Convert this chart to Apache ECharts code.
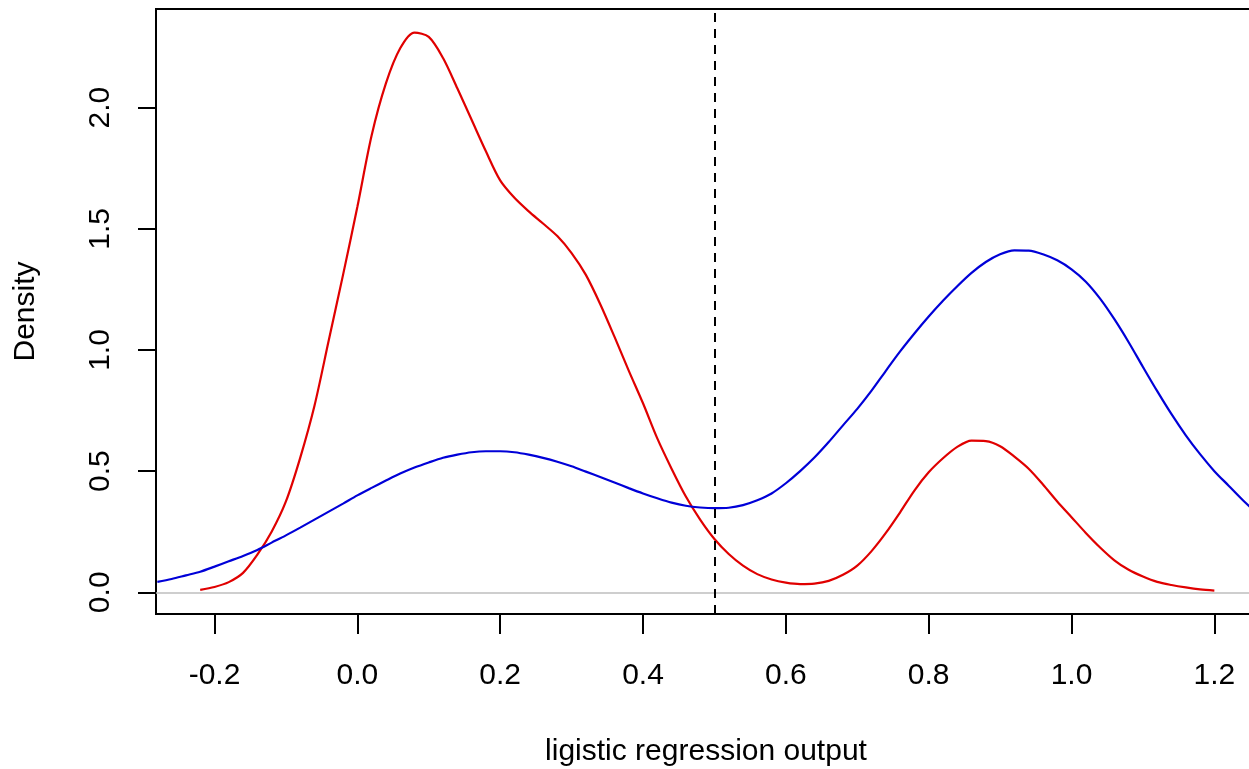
<!DOCTYPE html>
<html>
<head>
<meta charset="utf-8">
<title>Density of logistic regression output</title>
<script src="https://cdn.jsdelivr.net/npm/echarts@6/dist/echarts.min.js"></script>
<style>
  html, body { margin: 0; padding: 0; background: #ffffff; }
  #chart { width: 1249px; height: 769px; }
</style>
</head>
<body>
<div id="chart"></div>
<script>
// Density estimate of the model output for the first class (red)
const redX = [-0.22, -0.20, -0.18, -0.16, -0.14, -0.12, -0.10, -0.08, -0.06, -0.04, -0.02,
  0.00, 0.02, 0.04, 0.06, 0.08, 0.10, 0.12, 0.14, 0.16, 0.18, 0.20, 0.22, 0.24, 0.26,
  0.28, 0.30, 0.32, 0.34, 0.36, 0.38, 0.40, 0.42, 0.44, 0.46, 0.48, 0.50, 0.52, 0.54, 0.56,
  0.58, 0.60, 0.62, 0.64, 0.66, 0.68, 0.70, 0.72, 0.74, 0.76, 0.78, 0.80, 0.82, 0.84, 0.86,
  0.88, 0.90, 0.92, 0.94, 0.96, 0.98, 1.00, 1.02, 1.04, 1.06, 1.08, 1.10, 1.12, 1.14,
  1.16, 1.18, 1.20];
const redDensity = [0.010, 0.022, 0.042, 0.080, 0.155, 0.250, 0.375, 0.555, 0.770, 1.040, 1.310,
  1.590, 1.885, 2.100, 2.245, 2.310, 2.292, 2.205, 2.080, 1.950, 1.820, 1.700, 1.628, 1.572, 1.522,
  1.470, 1.400, 1.310, 1.190, 1.055, 0.915, 0.780, 0.635, 0.510, 0.395, 0.300, 0.220, 0.158, 0.110, 0.075,
  0.053, 0.040, 0.034, 0.036, 0.047, 0.072, 0.110, 0.170, 0.245, 0.330, 0.420, 0.495, 0.553, 0.600, 0.626,
  0.624, 0.603, 0.560, 0.510, 0.445, 0.375, 0.310, 0.245, 0.185, 0.132, 0.093, 0.065, 0.043, 0.030,
  0.020, 0.012, 0.007];

// Density estimate of the model output for the second class (blue)
const blueX = [-0.28, -0.26, -0.24, -0.22, -0.20, -0.18, -0.16, -0.14, -0.12, -0.10, -0.08,
  -0.06, -0.04, -0.02, 0.00, 0.02, 0.04, 0.06, 0.08, 0.10, 0.12, 0.14, 0.16, 0.18, 0.20,
  0.22, 0.24, 0.26, 0.28, 0.30, 0.32, 0.34, 0.36, 0.38, 0.40, 0.42, 0.44, 0.46, 0.48, 0.50,
  0.52, 0.54, 0.56, 0.58, 0.60, 0.62, 0.64, 0.66, 0.68, 0.70, 0.72, 0.74, 0.76, 0.78, 0.80,
  0.82, 0.84, 0.86, 0.88, 0.90, 0.92, 0.94, 0.96, 0.98, 1.00, 1.02, 1.04, 1.06, 1.08, 1.10,
  1.12, 1.14, 1.16, 1.18, 1.20, 1.22, 1.24, 1.26];
const blueDensity = [0.043, 0.055, 0.070, 0.085, 0.106, 0.128, 0.150, 0.175, 0.205, 0.235, 0.267,
  0.300, 0.333, 0.366, 0.400, 0.431, 0.461, 0.490, 0.515, 0.536, 0.555, 0.568, 0.578, 0.582, 0.582,
  0.578, 0.568, 0.555, 0.539, 0.520, 0.498, 0.476, 0.453, 0.430, 0.408, 0.388, 0.370, 0.357, 0.350, 0.347,
  0.349, 0.360, 0.380, 0.408, 0.450, 0.500, 0.556, 0.620, 0.689, 0.757, 0.832, 0.914, 0.994, 1.068, 1.138,
  1.203, 1.263, 1.318, 1.363, 1.395, 1.411, 1.410, 1.395, 1.370, 1.333, 1.282, 1.212, 1.127, 1.032, 0.930,
  0.830, 0.735, 0.648, 0.570, 0.500, 0.440, 0.380, 0.325];

// Tick labels and reference lines
const xTicks = [-0.2, 0.0, 0.2, 0.4, 0.6, 0.8, 1.0, 1.2];
const yTicks = [0.0, 0.5, 1.0, 1.5, 2.0];
const cutoff = 0.5;
const baseline = 0;

const X_MIN = -0.2819, X_MAX = 1.2583;
const Y_MIN = -0.0896, Y_MAX = 2.4073;

const FONT = '"Liberation Sans", Arial, sans-serif';
const pairs = (xs, ys) => xs.map((x, i) => [x, ys[i]]);

const chart = echarts.init(document.getElementById('chart'), null, { renderer: 'canvas' });
chart.setOption({
  animation: false,
  backgroundColor: '#ffffff',
  grid: {
    left: 156, top: 9, width: 1100, height: 605,
    outerBoundsMode: 'none', containLabel: false,
    show: true, borderColor: '#000000', borderWidth: 2, backgroundColor: 'transparent'
  },
  xAxis: {
    type: 'value', min: X_MIN, max: X_MAX,
    name: 'ligistic regression output', nameLocation: 'middle', nameGap: 123,
    nameTextStyle: { fontFamily: FONT, fontSize: 30, color: '#000' },
    axisLine: { show: false, onZero: false },
    splitLine: { show: false },
    axisTick: { show: true, inside: false, length: 20, customValues: xTicks,
      lineStyle: { color: '#000', width: 2 } },
    axisLabel: { customValues: xTicks, margin: 47, fontFamily: FONT, fontSize: 30, color: '#000',
      formatter: v => v.toFixed(1) }
  },
  yAxis: {
    type: 'value', min: Y_MIN, max: Y_MAX,
    name: 'Density', nameLocation: 'middle', nameGap: 115, nameRotate: 90,
    nameTextStyle: { fontFamily: FONT, fontSize: 30, color: '#000' },
    axisLine: { show: false, onZero: false },
    splitLine: { show: false },
    axisTick: { show: true, inside: false, length: 18, customValues: yTicks,
      lineStyle: { color: '#000', width: 2 } },
    axisLabel: { customValues: yTicks, margin: 40, rotate: 90, fontFamily: FONT, fontSize: 30, color: '#000',
      formatter: v => v.toFixed(1) }
  },
  series: [
    {
      name: 'baseline', type: 'line', data: [], silent: true,
      markLine: {
        silent: true, symbol: 'none', label: { show: false },
        lineStyle: { color: '#bebebe', width: 1.5, type: 'solid' },
        data: [{ yAxis: baseline }]
      }
    },
    {
      name: 'class 0', type: 'line', data: pairs(redX, redDensity),
      smooth: 0.3, showSymbol: false, clip: true,
      lineStyle: { color: '#e00000', width: 2.2 }, itemStyle: { color: '#e00000' }
    },
    {
      name: 'class 1', type: 'line', data: pairs(blueX, blueDensity),
      smooth: 0.3, showSymbol: false, clip: true,
      lineStyle: { color: '#0000d8', width: 2.2 }, itemStyle: { color: '#0000d8' }
    },
    {
      name: 'cutoff', type: 'line', data: [], silent: true,
      markLine: {
        silent: true, symbol: 'none', label: { show: false },
        lineStyle: { color: '#000000', width: 2, type: [9, 7] },
        data: [{ xAxis: cutoff }]
      }
    }
  ]
});
</script>
</body>
</html>
